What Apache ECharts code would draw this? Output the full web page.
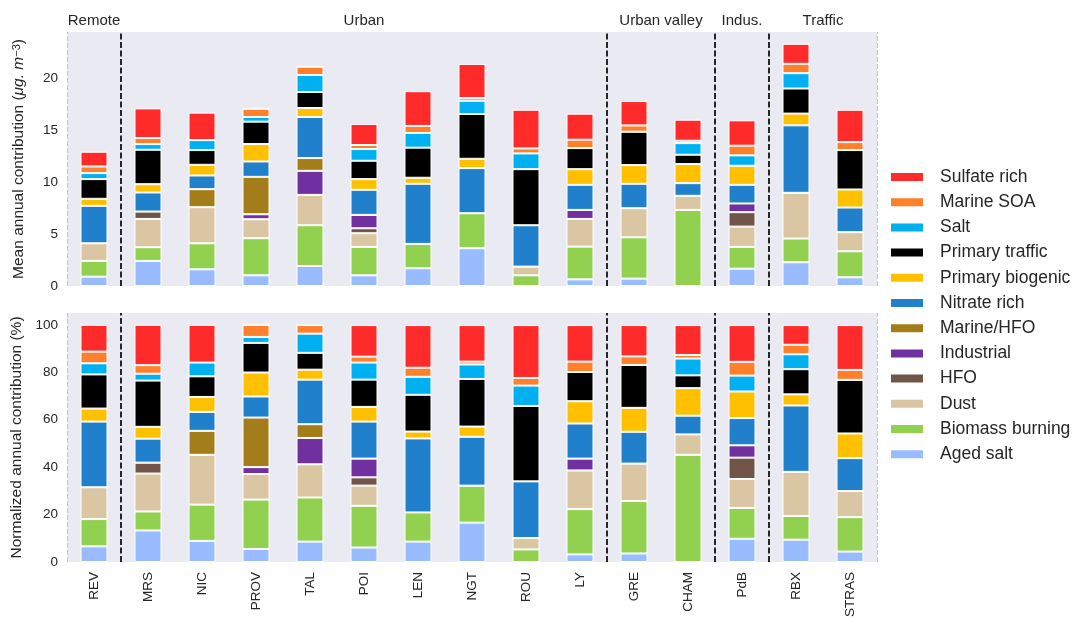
<!DOCTYPE html>
<html>
<head>
<meta charset="utf-8">
<script src="https://cdn.jsdelivr.net/npm/echarts@6/dist/echarts.min.js"></script>
<style>
  html, body { margin: 0; padding: 0; background: #fff; }
  #chart { width: 1072px; height: 620px; }
</style>
</head>
<body>
<div id="chart"></div>
<script>
// ---------------- data ----------------
const categories = ['REV','MRS','NIC','PROV','TAL','POI','LEN','NGT','ROU','LY','GRE','CHAM','PdB','RBX','STRAS'];

// site groups: [label, first index, last index]
const groupLabels = ['Remote', 'Urban', 'Urban valley', 'Indus.', 'Traffic'];
const groupFirst  = [0, 1, 10, 12, 13];
const groupLast   = [0, 9, 11, 12, 14];
const groupBounds = [0.5, 9.5, 11.5, 12.5];

// component names, stacked from bottom to top
const componentNames = ['Aged salt','Biomass burning','Dust','HFO','Industrial','Marine/HFO',
  'Nitrate rich','Primary biogenic','Primary traffic','Salt','Marine SOA','Sulfate rich'];

// Mean annual contribution (µg/m3)
const absAgedSalt   = [0.90, 2.42, 1.61, 1.03, 1.93, 1.03, 1.71, 3.64, 0,    0.64, 0.71, 0,    1.67, 2.29, 0.84];
const absBiomass    = [1.52, 1.32, 2.51, 3.58, 3.93, 2.74, 2.35, 3.38, 1.03, 3.16, 3.99, 7.34, 2.10, 2.29, 2.51];
const absDust       = [1.70, 2.73, 3.48, 1.83, 2.93, 1.32, 0,    0,    0.84, 2.67, 2.80, 1.36, 1.96, 4.41, 1.84];
const absHFO        = [0,    0.71, 0,    0,    0,    0.48, 0,    0,    0,    0,    0,    0,    1.39, 0,    0];
const absIndustrial = [0,    0,    0,    0.48, 2.32, 1.29, 0,    0,    0,    0.87, 0,    0,    0.84, 0,    0];
const absMarineHFO  = [0,    0,    1.74, 3.61, 1.23, 0,    0,    0,    0,    0,    0,    0,    0,    0,    0];
const absNitrate    = [3.61, 1.84, 1.32, 1.48, 3.96, 2.42, 5.80, 4.35, 3.99, 2.42, 2.36, 1.22, 1.80, 6.51, 2.38];
const absBiogenic   = [0.68, 0.80, 1.03, 1.68, 0.87, 1.03, 0.58, 0.90, 0,    1.51, 1.80, 1.84, 1.84, 1.13, 1.74];
const absTraffic    = [1.90, 3.32, 1.42, 2.16, 1.54, 1.77, 2.90, 4.32, 5.41, 2.03, 3.22, 0.90, 0,    2.42, 3.80];
const absSalt       = [0.58, 0.55, 0.96, 0.45, 1.64, 1.13, 1.42, 1.28, 1.52, 0,    0,    1.12, 1.00, 1.48, 0];
const absMarineSOA  = [0.64, 0.58, 0,    0.80, 0.81, 0.39, 0.68, 0.26, 0.48, 0.81, 0.61, 0.23, 0.93, 0.90, 0.77];
const absSulfate    = [1.42, 2.86, 2.65, 0,    0,    2.03, 3.35, 3.29, 3.73, 2.51, 2.35, 2.03, 2.45, 1.93, 3.12];

// Normalized annual contribution (%)
const pctAgedSalt   = [6.6, 13.3, 8.9, 5.5, 8.6, 6.1, 8.6, 16.6, 0,   3.2, 3.6, 0,   9.8, 9.4, 4.4];
const pctBiomass    = [11.5, 8.0, 15.3, 20.8, 18.6, 17.6, 12.3, 15.6, 5.3, 19.1, 22.1, 45.2, 13.0, 10.0, 14.5];
const pctDust       = [13.4, 16.0, 21.0, 10.8, 14.0, 8.5, 0,   0,   4.8, 16.3, 15.8, 8.6, 12.2, 18.6, 11.0];
const pctHFO        = [0,   4.6, 0,   0,   0,   3.5, 0,   0,   0,   0,   0,   0,   9.0, 0,   0];
const pctIndustrial = [0,   0,   0,   2.9, 11.1, 7.9, 0,   0,   0,   5.0, 0,   0,   5.2, 0,   0];
const pctMarineHFO  = [0,   0,   10.1, 20.9, 5.8, 0,   0,   0,   0,   0,   0,   0,   0,   0,   0];
const pctNitrate    = [27.7, 10.1, 8.0, 8.9, 18.8, 15.6, 31.2, 20.6, 23.9, 14.8, 13.4, 7.9, 11.5, 28.0, 13.9];
const pctBiogenic   = [5.5, 5.0, 6.3, 10.1, 4.2, 6.2, 2.9, 4.3, 0,   9.4, 10.1, 11.6, 11.2, 4.7, 10.4];
const pctTraffic    = [14.4, 19.5, 8.7, 12.5, 7.1, 11.5, 15.5, 20.1, 31.8, 12.3, 18.1, 5.4, 0,  10.6, 22.6];
const pctSalt       = [4.7, 2.9, 5.8, 2.5, 8.1, 7.2, 7.6, 6.1, 8.6, 0,   0,   7.1, 6.7, 6.3, 0];
const pctMarineSOA  = [4.9, 3.6, 0,   5.1, 3.6, 2.5, 3.8, 1.2, 3.2, 4.4, 3.6, 1.5, 5.8, 4.0, 4.2];
const pctSulfate    = [11.3, 17.0, 15.9, 0,  0,   13.3, 18.0, 15.4, 22.3, 15.4, 13.2, 12.6, 15.5, 8.3, 18.9];

const topTicks = [0, 5, 10, 15, 20];
const bottomTicks = [0, 20, 40, 60, 80, 100];

// ---------------- styling ----------------
const absSeries = [absAgedSalt, absBiomass, absDust, absHFO, absIndustrial, absMarineHFO,
  absNitrate, absBiogenic, absTraffic, absSalt, absMarineSOA, absSulfate];
const pctSeries = [pctAgedSalt, pctBiomass, pctDust, pctHFO, pctIndustrial, pctMarineHFO,
  pctNitrate, pctBiogenic, pctTraffic, pctSalt, pctMarineSOA, pctSulfate];
const componentColors = ['#99BBFF', '#92D050', '#DBC6A4', '#705548', '#7030A0', '#A37D1A',
  '#2080CC', '#FFC000', '#000000', '#00B0F0', '#FF7F2A', '#FF2A2A'];

const FONT = '"Liberation Sans", Arial, Helvetica, sans-serif';
const TXT = '#262626';

const chart = echarts.init(document.getElementById('chart'), null, { renderer: 'canvas' });

const series = [];
componentNames.forEach((name, i) => {
  const base = {
    type: 'bar', name: name, barWidth: '50%',
    itemStyle: { color: componentColors[i], borderColor: '#ffffff', borderWidth: 1 },
    emphasis: { disabled: true }
  };
  series.push(Object.assign({}, base, { xAxisIndex: 0, yAxisIndex: 0, stack: 'abs', data: absSeries[i] }));
  series.push(Object.assign({}, base, { xAxisIndex: 1, yAxisIndex: 1, stack: 'pct', data: pctSeries[i] }));
});

function separatorSeries(xIdx, yIdx) {
  const edgeStyle = { color: '#c4c4c4', width: 1, type: [5, 2] };
  const sepStyle = { color: '#262626', width: 2, type: [6, 2.5] };
  return {
    type: 'line', xAxisIndex: xIdx, yAxisIndex: yIdx, data: [], silent: true,
    markLine: {
      silent: true, symbol: 'none', animation: false,
      label: { show: false },
      data: [{ xAxis: -0.5, lineStyle: edgeStyle }, { xAxis: 14.5, lineStyle: edgeStyle }]
        .concat(groupBounds.map(v => ({ xAxis: v, lineStyle: sepStyle })))
    }
  };
}
series.push(separatorSeries(2, 0));
series.push(separatorSeries(3, 1));

const yLabel = { color: TXT, fontSize: 13.5, fontFamily: FONT, margin: 9 };

const option = {
  animation: false,
  textStyle: { fontFamily: FONT },
  grid: [
    { left: 67, width: 810, top: 32, height: 254, show: true, backgroundColor: '#EAEAF2', borderWidth: 0 },
    { left: 67, width: 810, top: 313, height: 253, show: true, backgroundColor: '#EAEAF2', borderWidth: 0 }
  ],
  xAxis: [
    { type: 'category', gridIndex: 0, data: categories, boundaryGap: true,
      axisLine: { show: false }, axisTick: { show: false }, axisLabel: { show: false }, splitLine: { show: false } },
    { type: 'category', gridIndex: 1, data: categories, boundaryGap: true,
      axisLine: { show: false }, axisTick: { show: false }, splitLine: { show: false },
      axisLabel: { rotate: 90, color: TXT, fontSize: 13.5, fontFamily: FONT, margin: 10, interval: 0 } },
    { type: 'value', gridIndex: 0, min: -0.5, max: 14.5, show: false },
    { type: 'value', gridIndex: 1, min: -0.5, max: 14.5, show: false }
  ],
  yAxis: [
    { type: 'value', gridIndex: 0, min: 0, max: 24.5, interval: 5,
      axisLine: { show: false }, axisTick: { show: false }, splitLine: { show: false },
      axisLabel: Object.assign({}, yLabel, { showMaxLabel: false,
        formatter: v => topTicks.indexOf(v) >= 0 ? String(v) : '' }),
      name: '{n|Mean annual contribution (}{i|μg. m}{s|−3}{n|)}',
      nameLocation: 'middle', nameGap: 40, nameRotate: 90,
      nameTextStyle: { color: TXT, fontFamily: FONT, fontSize: 15.5,
        rich: {
          n: { color: TXT, fontFamily: FONT, fontSize: 15.5 },
          i: { color: TXT, fontFamily: FONT, fontSize: 15.5, fontStyle: 'italic' },
          s: { color: TXT, fontFamily: FONT, fontSize: 11, verticalAlign: 'top', fontStyle: 'normal' }
        } } },
    { type: 'value', gridIndex: 1, min: 0, max: 105, interval: 20,
      axisLine: { show: false }, axisTick: { show: false }, splitLine: { show: false },
      axisLabel: Object.assign({}, yLabel, { showMaxLabel: false,
        formatter: v => bottomTicks.indexOf(v) >= 0 ? String(v) : '' }),
      name: 'Normalized annual contribution (%)',
      nameLocation: 'middle', nameGap: 40, nameRotate: 90,
      nameTextStyle: { color: TXT, fontFamily: FONT, fontSize: 15.5 } }
  ],
  legend: {
    orient: 'vertical', left: 889, top: 168, padding: 0,
    data: componentNames.slice().reverse(),
    icon: 'rect', itemWidth: 34, itemHeight: 10, itemGap: 7.2,
    selectedMode: false,
    textStyle: { color: TXT, fontFamily: FONT, fontSize: 17.5, lineHeight: 18, padding: [0, 0, 0, 11] }
  },
  series: series
};

chart.setOption(option);

// group labels above the top panel
const graphics = groupLabels.map((label, g) => {
  const center = (groupFirst[g] + groupLast[g]) / 2;
  const px = chart.convertToPixel({ xAxisIndex: 2 }, center);
  return {
    type: 'text', x: px, y: 21,
    style: { text: label, fill: TXT, font: '15px ' + FONT, textAlign: 'center', textVerticalAlign: 'middle' },
    silent: true
  };
});
chart.setOption({ graphic: graphics });
</script>
</body>
</html>
